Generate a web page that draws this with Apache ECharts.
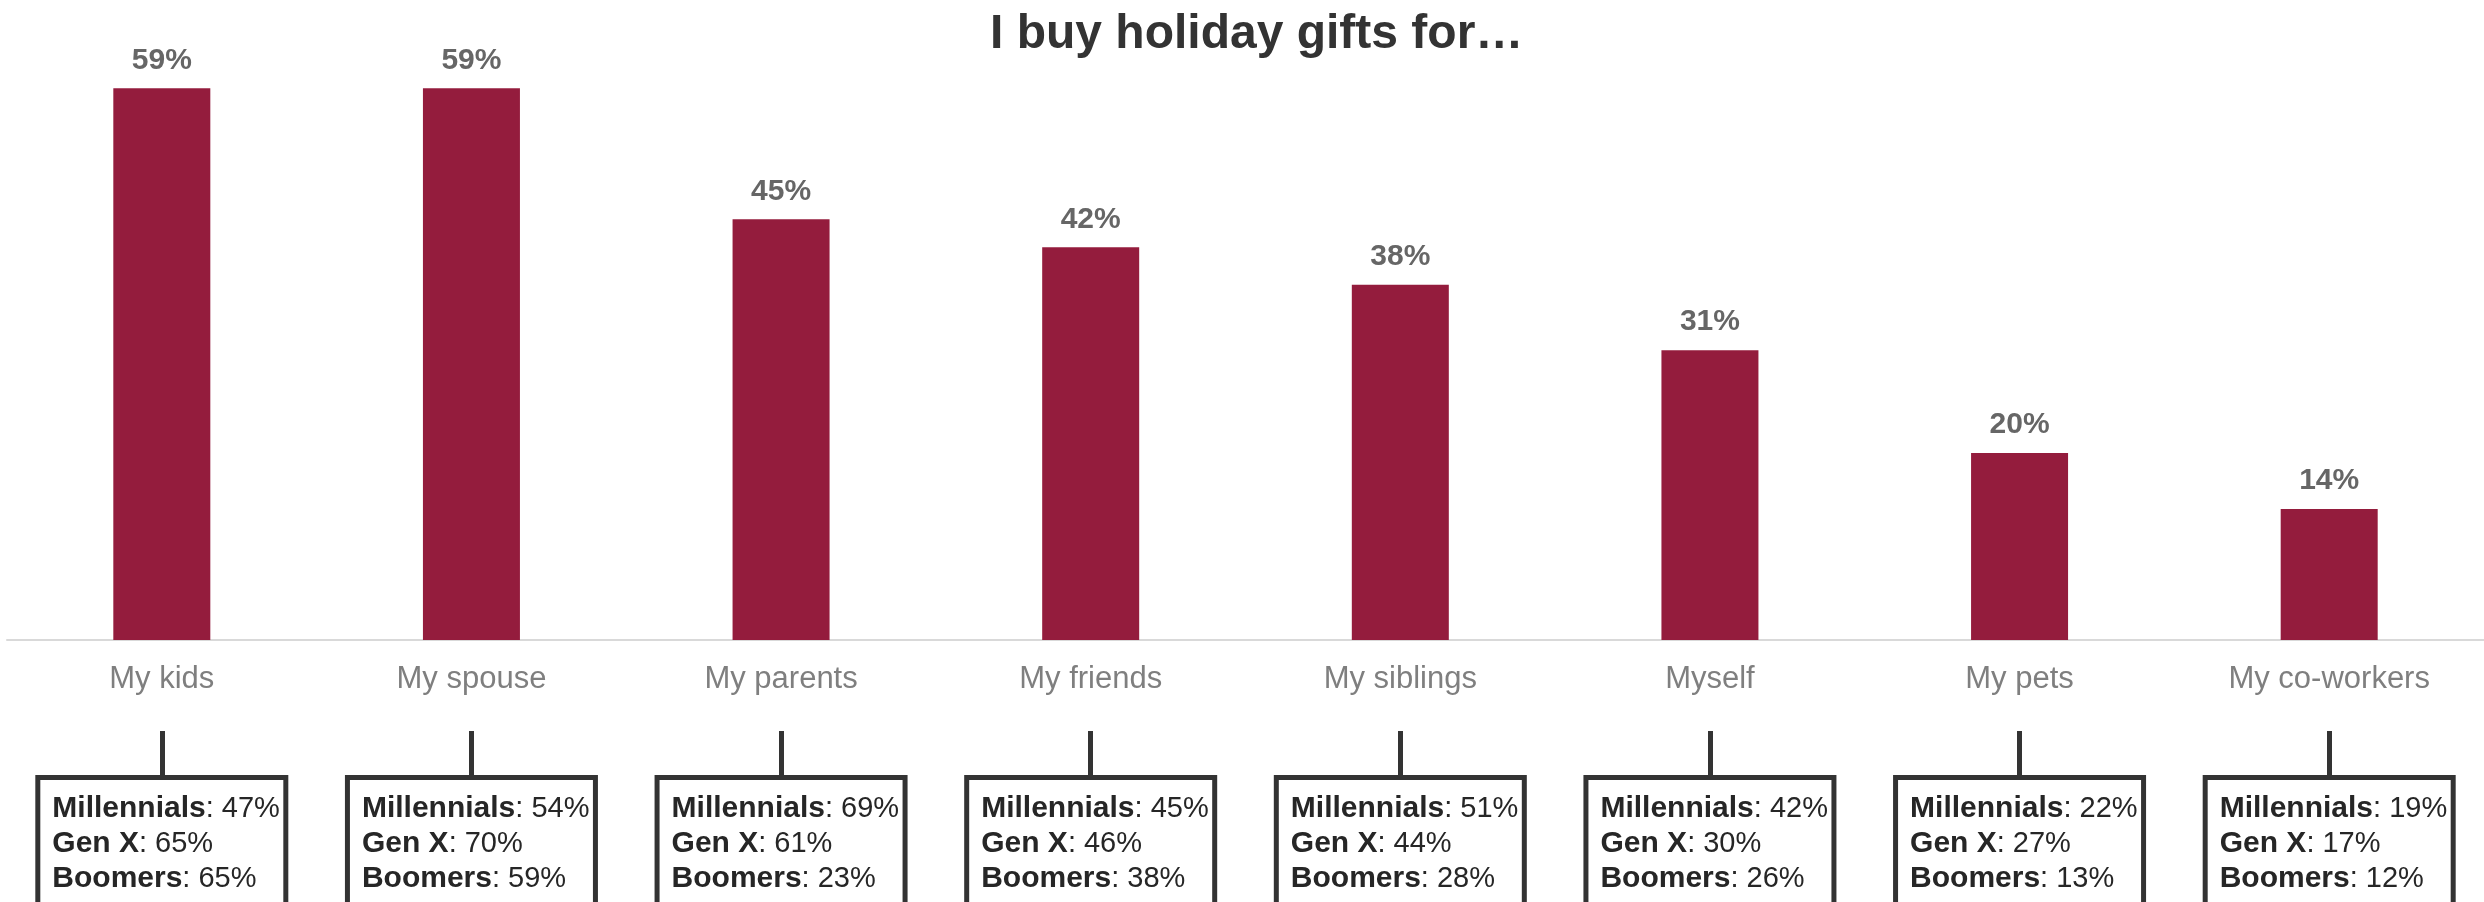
<!DOCTYPE html>
<html>
<head>
<meta charset="utf-8">
<title>I buy holiday gifts for…</title>
<script src="https://cdn.jsdelivr.net/npm/echarts@6/dist/echarts.min.js"></script>
<style>
  html, body { margin: 0; padding: 0; background: #ffffff; }
  #chart { width: 2484px; height: 902px; }
</style>
</head>
<body>
<div id="chart"></div>
<script>
// Share of respondents buying holiday gifts for each recipient (%)
const categories = ['My kids', 'My spouse', 'My parents', 'My friends', 'My siblings', 'Myself', 'My pets', 'My co-workers'];
const overall = [59, 59, 45, 42, 38, 31, 20, 14];

// Breakdown by generation (%)
const millennials = [47, 54, 69, 45, 51, 42, 22, 19];
const genX = [65, 70, 61, 46, 44, 30, 27, 17];
const boomers = [65, 59, 23, 38, 28, 26, 13, 12];

const FONT = '"Liberation Sans", Arial, Helvetica, sans-serif';

const chart = echarts.init(document.getElementById('chart'), null, { renderer: 'canvas' });

// Text for the generation box under each category
function breakdownText(value, index) {
  return '{b|Millennials}{n|: ' + millennials[index] + '%}\n' +
         '{b|Gen X}{n|: ' + genX[index] + '%}\n' +
         '{b|Boomers}{n|: ' + boomers[index] + '%}';
}

chart.setOption({
  animation: false,
  backgroundColor: '#ffffff',
  title: {
    text: 'I buy holiday gifts for…',
    left: 985,
    top: 6,
    textStyle: { fontFamily: FONT, fontSize: 48, fontWeight: 'bold', color: '#333333' }
  },
  grid: { left: 7, right: 0, top: 79, bottom: 262, outerBoundsMode: 'none', containLabel: false },
  xAxis: [
    {
      type: 'category',
      data: categories,
      axisLine: { show: true, lineStyle: { color: '#d9d9d9', width: 2 } },
      axisTick: { show: false },
      axisLabel: { interval: 0, color: '#7f7f7f', fontFamily: FONT, fontSize: 31, margin: 24 }
    },
    {
      // second row: connector ticks and generation boxes
      type: 'category',
      data: categories,
      position: 'bottom',
      offset: 91,
      axisLine: { show: false },
      axisTick: { show: true, alignWithLabel: true, interval: 0, length: 47, lineStyle: { color: '#333333', width: 5 } },
      axisLabel: {
        interval: 0,
        margin: 49,
        align: 'center',
        formatter: breakdownText,
        width: 227,
        padding: [11, 4, 6, 12],
        borderColor: '#333333',
        borderWidth: 5,
        backgroundColor: '#ffffff',
        lineHeight: 35,
        rich: {
          b: { fontFamily: FONT, fontSize: 30, fontWeight: 'bold', color: '#262626', align: 'left', lineHeight: 35 },
          n: { fontFamily: FONT, fontSize: 29, color: '#262626', align: 'left', lineHeight: 35 }
        }
      }
    }
  ],
  yAxis: { type: 'value', min: 0, max: 60, show: false, splitLine: { show: false } },
  series: [
    {
      type: 'bar',
      data: overall,
      barWidth: 97,
      itemStyle: { color: '#941c3d' },
      label: {
        show: true,
        position: 'top',
        distance: 13,
        formatter: '{c}%',
        fontFamily: FONT,
        fontSize: 30,
        fontWeight: 'bold',
        color: '#666666'
      }
    }
  ]
});
</script>
</body>
</html>
